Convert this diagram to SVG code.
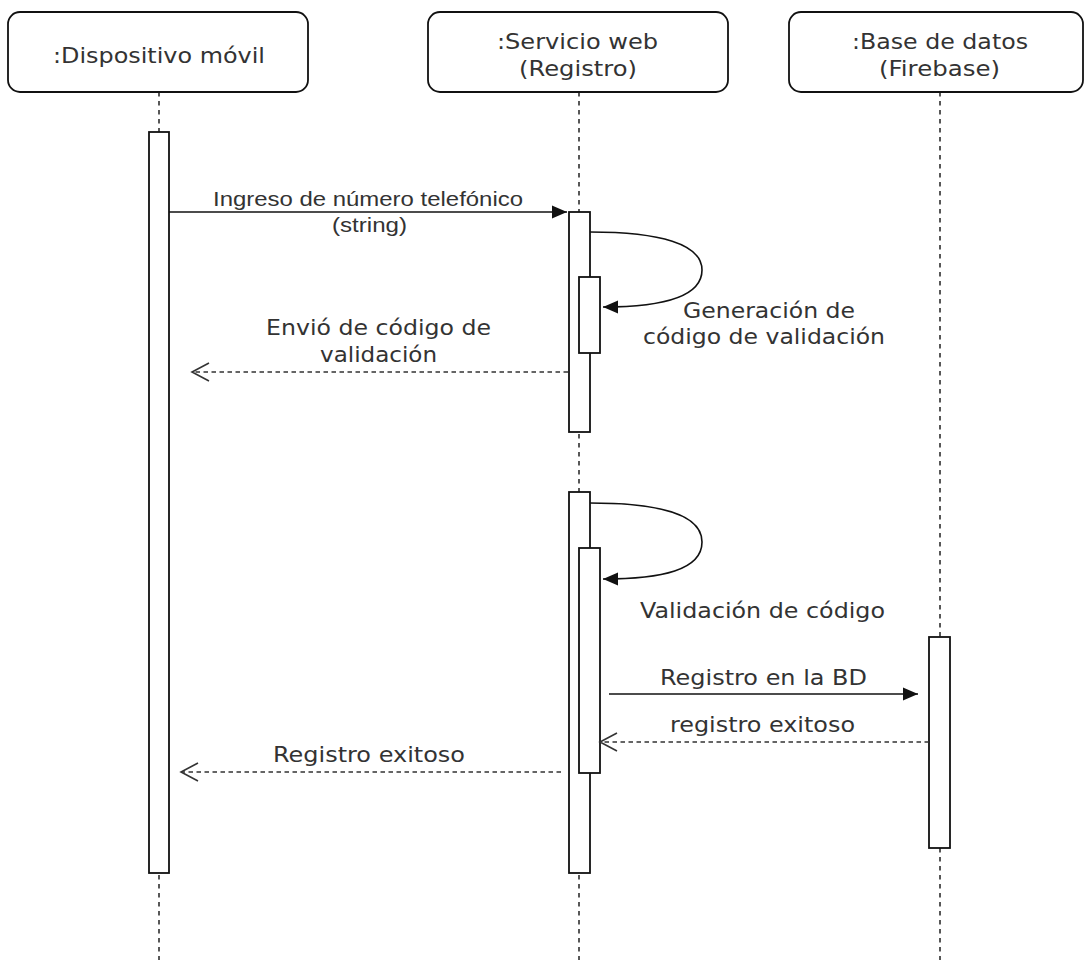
<svg xmlns="http://www.w3.org/2000/svg" width="1085" height="960" viewBox="0 0 1085 960">
<style>
.box{fill:#fff;stroke:#111;stroke-width:1.8}
.act{fill:#fff;stroke:#111;stroke-width:1.8}
.life{stroke:#111;stroke-width:1.4;stroke-dasharray:4.5 4.5;fill:none}
.msg{stroke:#111;stroke-width:1.6;fill:none}
.ret{stroke:#333;stroke-width:1.6;fill:none;stroke-dasharray:4.5 3.5}
.t{font-family:"DejaVu Sans",Verdana,sans-serif;font-size:22px;fill:#333;text-anchor:middle}
.h{font-family:"Liberation Sans",Arial,sans-serif;font-size:20px;fill:#333;text-anchor:middle}
</style>
<defs>
<marker id="block" markerUnits="userSpaceOnUse" viewBox="0 0 15 14" refX="15" refY="7" markerWidth="15" markerHeight="14" orient="auto">
<path d="M0,0.5 L15,7 L0,13.5 z" fill="#111"/>
</marker>
<marker id="open" markerUnits="userSpaceOnUse" viewBox="0 0 20 22" refX="18" refY="11" markerWidth="20" markerHeight="22" orient="auto">
<path d="M1,2 L18,11 L1,20" fill="none" stroke="#333" stroke-width="1.6"/>
</marker>
</defs>

<g id="lifelines">
<line class="life" x1="159" y1="92" x2="159" y2="960"/>
<line class="life" x1="579" y1="92" x2="579" y2="960"/>
<line class="life" x1="940" y1="92" x2="940" y2="960"/>
</g>

<g id="dispositivo">
<rect class="box" x="8" y="12" width="300" height="80" rx="12" ry="12"/>
<text class="t" x="159" y="63" textLength="212" lengthAdjust="spacingAndGlyphs">:Dispositivo móvil</text>
<rect class="act" x="149" y="132" width="20" height="741"/>
</g>

<g id="servicio">
<rect class="box" x="428" y="12" width="300" height="80" rx="12" ry="12"/>
<text class="t" x="577.5" y="49" textLength="161" lengthAdjust="spacingAndGlyphs">:Servicio web</text>
<text class="t" x="578" y="76" textLength="118" lengthAdjust="spacingAndGlyphs">(Registro)</text>
<rect class="act" x="569" y="212" width="21" height="220"/>
<rect class="act" x="579" y="277" width="21" height="76"/>
<rect class="act" x="569" y="492" width="21" height="381"/>
<rect class="act" x="579" y="548" width="21" height="225"/>
</g>

<g id="firebase">
<rect class="box" x="789" y="12" width="294" height="80" rx="12" ry="12"/>
<text class="t" x="940" y="49" textLength="176" lengthAdjust="spacingAndGlyphs">:Base de datos</text>
<text class="t" x="939.5" y="76" textLength="121" lengthAdjust="spacingAndGlyphs">(Firebase)</text>
<rect class="act" x="929" y="637" width="21" height="211"/>
</g>

<g id="connectors">
<line class="msg" x1="169" y1="212" x2="567" y2="212" marker-end="url(#block)"/>
<path class="msg" d="M590,232 C660,232 702,244 702,270 C702,297 662,307 603,307" marker-end="url(#block)"/>
<line class="ret" x1="568" y1="372" x2="192" y2="372" marker-end="url(#open)"/>
<path class="msg" d="M590,503 C660,503 702,515 702,542 C702,570 662,579 603,579" marker-end="url(#block)"/>
<line class="msg" x1="609" y1="694" x2="918" y2="694" marker-end="url(#block)"/>
<line class="ret" x1="929" y1="742" x2="600" y2="742" marker-end="url(#open)"/>
<line class="ret" x1="561" y1="772" x2="181" y2="772" marker-end="url(#open)"/>
</g>

<g id="labels">
<text class="h" x="368" y="206" textLength="310" lengthAdjust="spacingAndGlyphs">Ingreso de número telefónico</text>
<text class="h" x="369.5" y="232" textLength="75" lengthAdjust="spacingAndGlyphs">(string)</text>
<text class="t" x="769" y="318" textLength="172" lengthAdjust="spacingAndGlyphs">Generación de</text>
<text class="t" x="764" y="344" textLength="242" lengthAdjust="spacingAndGlyphs">código de validación</text>
<text class="t" x="378.5" y="335" textLength="225" lengthAdjust="spacingAndGlyphs">Envió de código de</text>
<text class="t" x="378.5" y="362" textLength="117" lengthAdjust="spacingAndGlyphs">validación</text>
<text class="t" x="762.5" y="618" textLength="245" lengthAdjust="spacingAndGlyphs">Validación de código</text>
<text class="t" x="763.5" y="685" textLength="207" lengthAdjust="spacingAndGlyphs">Registro en la BD</text>
<text class="t" x="762.5" y="732" textLength="185" lengthAdjust="spacingAndGlyphs">registro exitoso</text>
<text class="t" x="369" y="762" textLength="192" lengthAdjust="spacingAndGlyphs">Registro exitoso</text>
</g>
</svg>
